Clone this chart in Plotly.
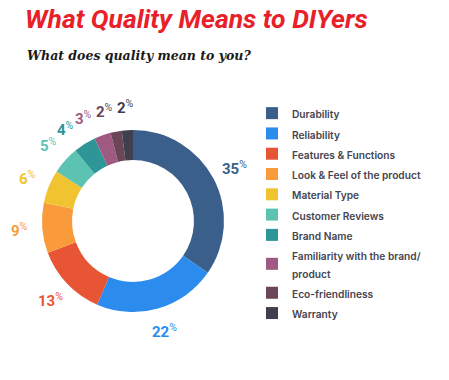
import math
import plotly.graph_objects as go

categories = ["Durability", "Reliability", "Features & Functions", "Look & Feel of the product",
              "Material Type", "Customer Reviews", "Brand Name",
              "Familiarity with the brand/<br>product", "Eco-friendliness", "Warranty"]
values = [35, 22, 13, 9, 6, 5, 4, 3, 2, 2]
colors = ["#3a5f8a", "#2b8ced", "#e85535", "#f99b3a", "#f0c430",
          "#5cc3b2", "#2e9696", "#9e5a80", "#6b4558", "#3f3f4f"]

W, H = 449, 380
CX, CY, R = 133, 221, 91          # donut centre / radius in px
LABEL_R = 114                     # label distance from centre in px
MIN_SEP = 11                      # min angular separation of labels (deg)

legend_labels = [f'<span style="font-size:10.2px">{c}</span>' for c in categories]

fig = go.Figure(go.Pie(
    labels=legend_labels,
    values=values,
    textinfo="none",
    marker=dict(colors=colors, line=dict(width=0)),
    hole=0.67,
    sort=False,
    direction="clockwise",
    rotation=0,
    domain=dict(x=[(CX - R) / W, (CX + R) / W], y=[1 - (CY + R) / H, 1 - (CY - R) / H]),
    hoverinfo="percent",
))

# percentage labels placed at each slice's mid-angle, spread to avoid overlap
total = sum(values)
mids = []
cum = 0
for v in values:
    mids.append((cum + v / 2) / total * 360)
    cum += v
angles = mids[:]
for i in range(len(angles) - 2, -1, -1):
    angles[i] = min(mids[i], angles[i + 1] - MIN_SEP)

annotations = []
for v, c, a in zip(values, colors, angles):
    t = math.radians(a)
    px = CX + LABEL_R * math.sin(t)
    py = CY - LABEL_R * math.cos(t)
    annotations.append(dict(
        text=f"<b>{v}</b><sup>%</sup>", x=px / W, y=1 - py / H,
        xref="paper", yref="paper", xanchor="center", yanchor="middle",
        showarrow=False, font=dict(family="Roboto", size=15, color=c)))

annotations += [
    dict(text="<b><i>What Quality Means to DIYers</i></b>", x=23 / W, y=1 - 18.5 / H,
         xref="paper", yref="paper", xanchor="left", yanchor="middle", showarrow=False,
         font=dict(family="Roboto", size=26.5, color="#e8202a", weight=900)),
    dict(text="<b><i>What does quality mean to you?</i></b>", x=25 / W, y=1 - 55 / H,
         xref="paper", yref="paper", xanchor="left", yanchor="middle", showarrow=False,
         font=dict(family="DejaVu Serif", size=12.5, color="#1a1a1a")),
]

fig.update_layout(
    width=W, height=H,
    margin=dict(l=0, r=0, t=0, b=0),
    paper_bgcolor="white",
    plot_bgcolor="white",
    showlegend=True,
    legend=dict(
        x=252 / W, y=1 - 98 / H, xanchor="left", yanchor="top",
        font=dict(family="Inter", size=13.3, color="#45454f", weight=600),
        traceorder="normal",
        itemclick=False,
    ),
    annotations=annotations,
)

fig.write_html("out.html", config={"displayModeBar": False},
               post_script="document.body.style.margin='0';")
